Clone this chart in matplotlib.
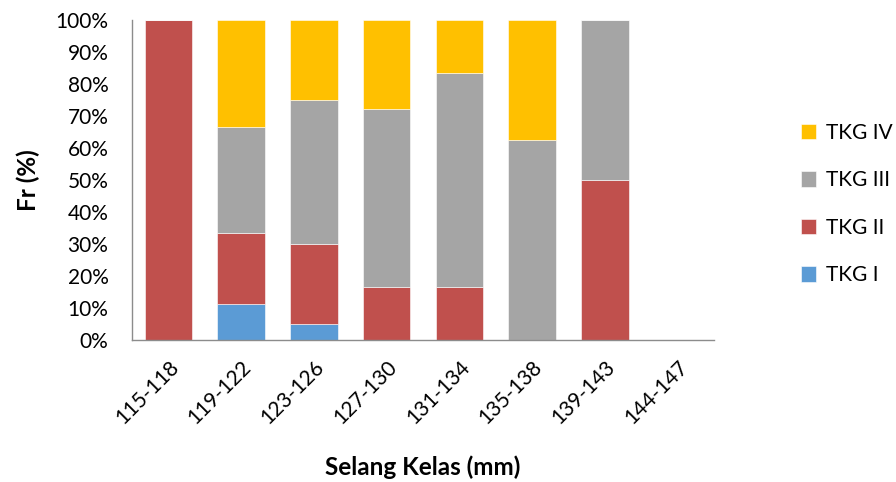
import matplotlib
matplotlib.use("Agg")
import matplotlib.pyplot as plt
import numpy as np

categories = ["115-118", "119-122", "123-126", "127-130", "131-134", "135-138", "139-143", "144-147"]
tkg_i = [0, 11.1, 5.0, 0, 0, 0, 0, 0]
tkg_ii = [100.0, 22.2, 25.0, 16.7, 16.7, 0, 50.0, 0]
tkg_iii = [0, 33.3, 45.0, 55.5, 66.6, 62.5, 50.0, 0]
tkg_iv = [0, 33.4, 25.0, 27.8, 16.7, 37.5, 0, 0]

series_names = ["TKG I", "TKG II", "TKG III", "TKG IV"]
series_colors = ["#5B9BD5", "#C0504D", "#A5A5A5", "#FFC000"]

plt.rcParams["font.family"] = ["Lato", "DejaVu Sans"]

fig = plt.figure(figsize=(8.96, 4.82), dpi=100)
ax = fig.add_axes([132 / 896, 1 - 340 / 482, (714 - 132) / 896, 320 / 482])

x = np.arange(len(categories))
bottom = np.zeros(len(categories))
handles = []
for name, vals, col in zip(series_names, [tkg_i, tkg_ii, tkg_iii, tkg_iv], series_colors):
    vals = np.array(vals)
    h = ax.bar(x, vals, width=0.65, bottom=bottom, color=col, label=name,
               edgecolor="white", linewidth=0.4)
    handles.append(h)
    bottom += vals

ax.set_xlim(-0.5, len(categories) - 0.5)
ax.set_ylim(0, 100)
ax.set_yticks(np.arange(0, 101, 10))
ax.set_yticklabels([f"{v}%" for v in range(0, 101, 10)], fontsize=15)
ax.set_xticks(x)
ax.set_xticklabels(categories, rotation=45, ha="right", rotation_mode="anchor", fontsize=15)
ax.tick_params(axis="y", length=0, pad=17)
ax.tick_params(axis="x", length=0, pad=12)

for side in ["top", "right"]:
    ax.spines[side].set_visible(False)
for side in ["left", "bottom"]:
    ax.spines[side].set_color("#8C8C8C")
    ax.spines[side].set_linewidth(1.0)

ax.set_xlabel("Selang Kelas (mm)", fontsize=17.5, fontweight="bold")
ax.xaxis.set_label_coords(0.5, -0.36)
ax.set_ylabel("Fr (%)", fontsize=17.5, fontweight="bold")
ax.yaxis.set_label_coords(-0.158, 0.5)

leg = fig.legend(handles[::-1], series_names[::-1], loc="center left",
                 bbox_to_anchor=(782 / 896, 1 - 204 / 482), frameon=False,
                 fontsize=15, handlelength=0.75, handleheight=0.75,
                 handletextpad=0.45, labelspacing=1.32)

fig.savefig("out.png", dpi=100)
